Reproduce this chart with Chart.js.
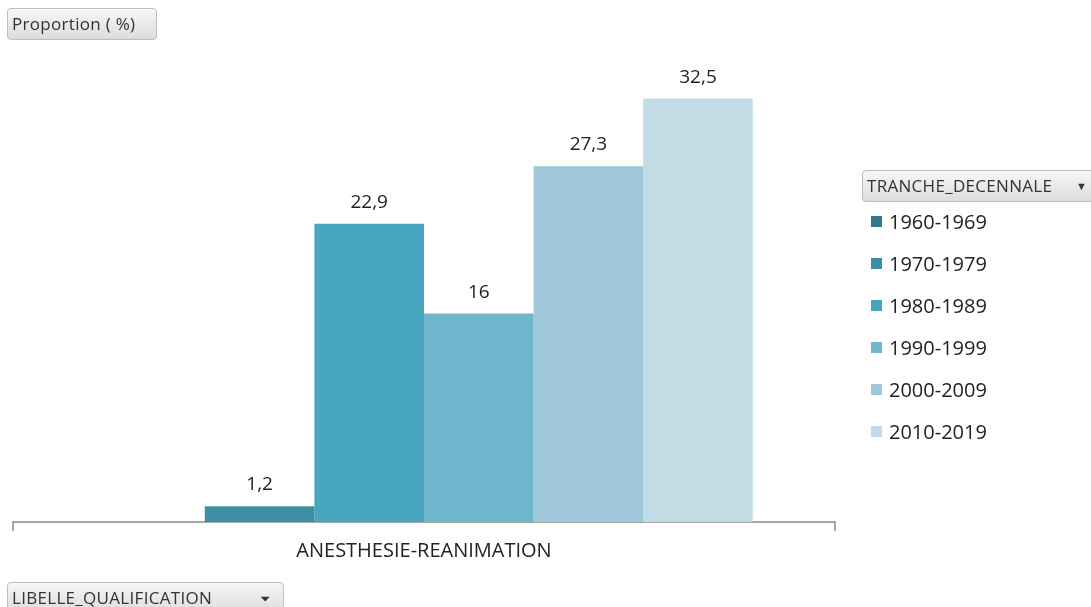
<!DOCTYPE html>
<html>
<head>
<meta charset="utf-8">
<script src="https://cdn.jsdelivr.net/npm/chart.js@4.4.1/dist/chart.umd.min.js"></script>
<style>
  html, body { margin: 0; padding: 0; background: #fff; }
  body { width: 1091px; height: 607px; position: relative; overflow: hidden; font-family: "Open Sans", sans-serif; }
  #wrap { position: absolute; left: 0; top: 0; width: 1091px; height: 607px; }
  .btn {
    position: absolute; box-sizing: border-box; height: 32px;
    border: 1px solid #bdbdbd; border-radius: 4px;
    background: linear-gradient(#f7f7f7, #dcdcdc);
    color: #333; font-size: 17px; line-height: 30px; padding-left: 4px;
    white-space: nowrap; letter-spacing: 0.3px;
  }
  #legend { position: absolute; left: 871px; top: 200px; }
  .item { height: 42px; display: flex; align-items: center; font-size: 20px; color: #222; }
  .sw { width: 11px; height: 11px; margin-right: 7px; }
</style>
</head>
<body>
<div id="wrap"><canvas id="myChart"></canvas></div>
<div class="btn" style="left:7px; top:8px; width:150px;">Proportion ( %)</div>
<div class="btn" style="left:862px; top:170px; width:235px;">TRANCHE_DECENNALE <span style="position:absolute; left:213px; font-size:11px;">&#9660;</span></div>
<div class="btn" style="left:7px; top:582px; width:277px;">LIBELLE_QUALIFICATION <span style="position:absolute; left:252px; font-size:13px;">&#9207;</span></div>
<div id="legend"></div>
<script>
const categories = ['ANESTHESIE-REANIMATION'];
const periods = ['1960-1969', '1970-1979', '1980-1989', '1990-1999', '2000-2009', '2010-2019'];
const values = [null, 1.2, 22.9, 16, 27.3, 32.5];
const colors = ['#31798c', '#3d8fa6', '#47a5bf', '#70b6cd', '#9fc8da', '#c2dce5'];

const valueLabels = {
    id: 'valueLabels',
    afterDatasetsDraw(chart) {
        const ctx = chart.ctx;
        ctx.save();
        ctx.font = '19px "Open Sans"';
        ctx.fillStyle = '#222';
        ctx.textAlign = 'center';
        ctx.textBaseline = 'alphabetic';
        chart.data.datasets.forEach((ds, i) => {
            chart.getDatasetMeta(i).data.forEach((bar, j) => {
                const v = ds.data[j];
                if (v === null) return;
                ctx.fillText(String(v).replace('.', ','), bar.x, bar.y - 16);
            });
        });
        ctx.restore();
    }
};

const contex = document.getElementById('myChart').getContext('2d');

let chart = new Chart(contex, {
    type: 'bar',
    data: {
        labels: categories,
        datasets: periods.map((p, i) => ({
            label: p,
            data: [values[i]],
            backgroundColor: colors[i]
        }))
    },
    options: {
        responsive: true,
        maintainAspectRatio: false,
        animation: false,
        categoryPercentage: 0.8,
        barPercentage: 1,
        layout: { padding: { left: 13, right: 256, top: 40, bottom: 36 } },
        plugins: {
            legend: { display: false },
            tooltip: { enabled: false }
        },
        scales: {
            y: { display: false, min: 0, max: 37 },
            x: {
                border: { color: '#a6a6a6', width: 2 },
                grid: { drawOnChartArea: false, drawTicks: true, tickLength: 9, color: '#a6a6a6', lineWidth: 2 },
                ticks: { color: '#222', font: { family: 'Open Sans', size: 20 }, padding: 8 }
            }
        }
    },
    plugins: [valueLabels]
});

const legend = document.getElementById('legend');
chart.data.datasets.forEach(ds => {
    const row = document.createElement('div');
    row.className = 'item';
    row.innerHTML = '<span class="sw" style="background:' + ds.backgroundColor + '"></span>' + ds.label;
    legend.appendChild(row);
});
</script>
</body>
</html>
